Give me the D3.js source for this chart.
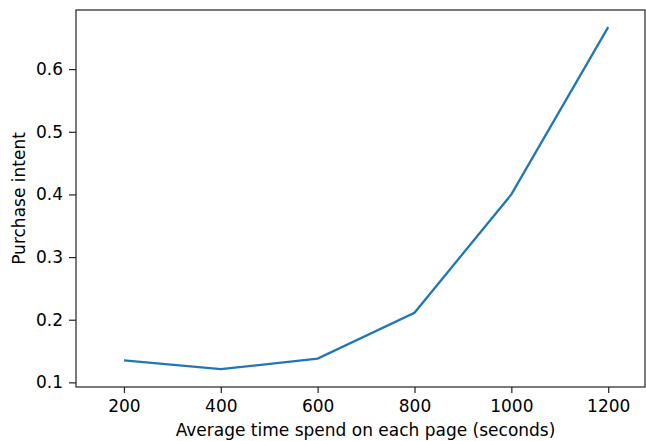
<!DOCTYPE html>
<html><head><meta charset="utf-8">
<script src="https://cdn.jsdelivr.net/npm/d3@7"></script>
<style>body{margin:0;background:#fff}svg{display:block}text{font-family:"DejaVu Sans",sans-serif;fill:#000}</style>
</head><body>
<script>
const times = [200, 400, 600, 800, 1000, 1200];
const intent = [0.135, 0.121, 0.138, 0.211, 0.400, 0.667];
const xTicks = [200, 400, 600, 800, 1000, 1200];
const yTicks = [0.1, 0.2, 0.3, 0.4, 0.5, 0.6];

const W = 646, H = 441;
const m = {left: 76, right: 1, top: 10, bottom: 54};
const svg = d3.select("body").append("svg").attr("width", W).attr("height", H);
const x = d3.scaleLinear().domain([101, 1276]).range([m.left, W - m.right]);
const y = d3.scaleLinear().domain([0.0926, 0.6944]).range([H - m.bottom, m.top]);

const xa = svg.append("g").attr("transform", `translate(0,${H - m.bottom})`)
  .call(d3.axisBottom(x).tickValues(xTicks).tickFormat(d3.format("d")).tickSize(6).tickPadding(7));
const ya = svg.append("g").attr("transform", `translate(${m.left},0)`)
  .call(d3.axisLeft(y).tickValues(yTicks).tickFormat(d3.format(".1f")).tickSize(7).tickPadding(6));
[xa, ya].forEach(a => {
  a.select(".domain").remove();
  a.selectAll("line").attr("stroke", "#222").attr("stroke-width", 1.2);
  a.selectAll("text").style("font-size", "17px").attr("fill", "#000");
});

svg.append("path").datum(times.map((t, i) => [t, intent[i]]))
  .attr("fill", "none").attr("stroke", "#1f77b4").attr("stroke-width", 2.3)
  .attr("d", d3.line().x(d => x(d[0])).y(d => y(d[1])));

svg.append("rect").attr("x", m.left).attr("y", m.top)
  .attr("width", W - m.right - m.left).attr("height", H - m.bottom - m.top)
  .attr("fill", "none").attr("stroke", "#222").attr("stroke-width", 1.2);

svg.append("text").attr("x", (m.left + W - m.right) / 2 + 5).attr("y", 436)
  .attr("text-anchor", "middle").style("font-size", "17px")
  .text("Average time spend on each page (seconds)");
svg.append("text").attr("transform", `translate(25,${(m.top + H - m.bottom) / 2}) rotate(-90)`)
  .attr("text-anchor", "middle").style("font-size", "17px")
  .text("Purchase intent");
</script>
</body></html>
